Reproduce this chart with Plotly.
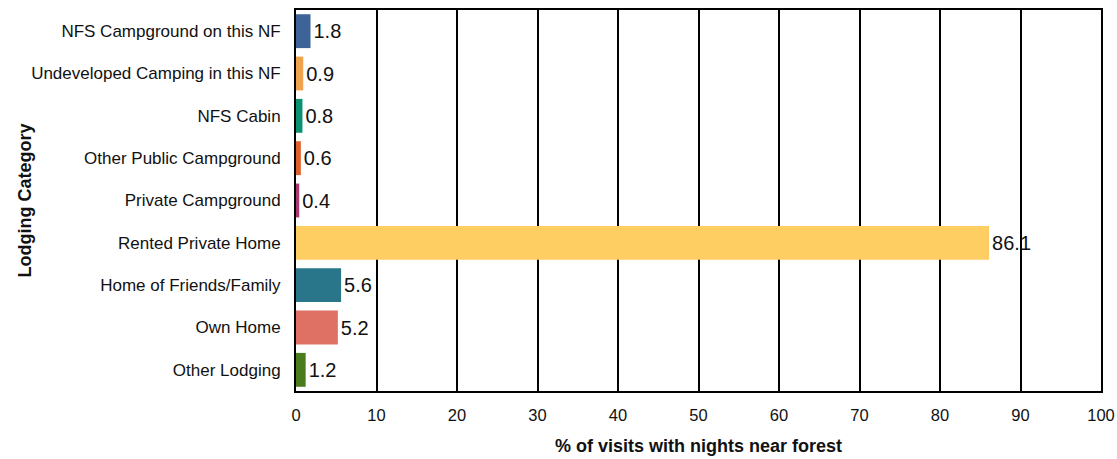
import plotly.graph_objects as go

categories = [
    "NFS Campground on this NF",
    "Undeveloped Camping in this NF",
    "NFS Cabin",
    "Other Public Campground",
    "Private Campground",
    "Rented Private Home",
    "Home of Friends/Family",
    "Own Home",
    "Other Lodging",
]
values = [1.8, 0.9, 0.8, 0.6, 0.4, 86.1, 5.6, 5.2, 1.2]
colors = [
    "#3D6398", "#F0A34F", "#0A9171", "#E0602B", "#A73A71",
    "#FECE63", "#29768B", "#DE7064", "#4A7B1D",
]
x_ticks = [0, 10, 20, 30, 40, 50, 60, 70, 80, 90, 100]

FONT = "Liberation Sans, Arial, sans-serif"
W, H = 1117, 459
ML, MR, MT, MB = 296, 16, 10, 68
plot_w = W - ML - MR
plot_h = H - MT - MB

fig = go.Figure(
    go.Bar(
        x=values,
        y=categories,
        orientation="h",
        marker=dict(color=colors, line=dict(width=0)),
        text=[f"{v:.1f}" for v in values],
        textposition="outside",
        textfont=dict(family=FONT, size=20, color="#111111"),
        cliponaxis=False,
        width=0.8,
    )
)

fig.update_layout(
    width=W,
    height=H,
    margin=dict(l=ML, r=MR, t=MT, b=MB, autoexpand=False),
    paper_bgcolor="white",
    plot_bgcolor="white",
    showlegend=False,
    font=dict(family=FONT, size=16, color="#111111"),
)

fig.update_xaxes(
    range=[0, 100],
    tickvals=x_ticks,
    ticktext=[str(t) for t in x_ticks],
    showgrid=True,
    gridcolor="black",
    gridwidth=2,
    showline=True,
    linecolor="black",
    linewidth=2,
    mirror=True,
    zeroline=False,
    ticks="",
    automargin=False,
    ticklabelstandoff=8,
    tickfont=dict(size=16.5),
)

fig.update_yaxes(
    categoryorder="array",
    categoryarray=categories[::-1],
    showgrid=False,
    showline=True,
    linecolor="black",
    linewidth=2,
    mirror=True,
    ticks="",
    automargin=False,
    ticklabelstandoff=10,
    tickfont=dict(size=17),
)

# Axis titles placed as annotations so they sit at fixed pixel offsets
fig.add_annotation(
    text="<b>% of visits with nights near forest</b>",
    xref="paper", yref="paper",
    x=0.5, y=-(446 - (MT + plot_h)) / plot_h,
    xanchor="center", yanchor="middle",
    showarrow=False,
    font=dict(family=FONT, size=18, color="#111111"),
)
fig.add_annotation(
    text="<b>Lodging Category</b>",
    xref="paper", yref="paper",
    x=(24 - ML) / plot_w, y=0.5,
    xanchor="center", yanchor="middle",
    textangle=-90,
    showarrow=False,
    font=dict(family=FONT, size=18, color="#111111"),
)

fig.write_html("out.html")
